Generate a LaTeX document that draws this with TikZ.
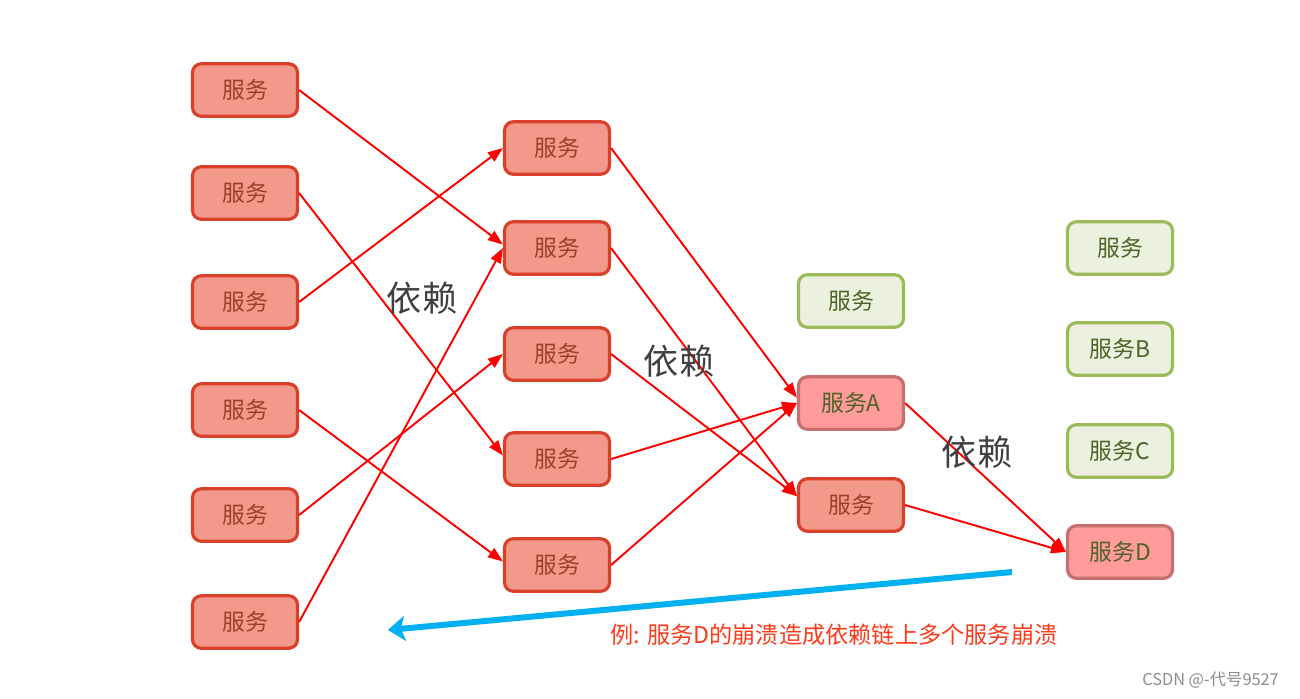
\documentclass[tikz,border=0pt]{standalone}
\usepackage{fontspec}
\setmainfont{Noto Sans CJK SC}
\usetikzlibrary{arrows.meta}
\definecolor{downfill}{HTML}{F2998B}
\definecolor{downedge}{HTML}{D8402A}
\definecolor{downtext}{HTML}{9E3E2A}
\definecolor{hitfill}{HTML}{FF9B9B}
\definecolor{hitedge}{HTML}{C76E6E}
\definecolor{okfill}{HTML}{EBF1DE}
\definecolor{okedge}{HTML}{9BBB59}
\definecolor{oktext}{HTML}{4F6228}
\definecolor{crashblue}{HTML}{00B0F0}
\definecolor{notered}{HTML}{FF3A1A}
\begin{document}
\begin{tikzpicture}[x=0.02cm,y=-0.02cm,
  svc/.style={line width=1.8pt,rounded corners=5pt,minimum width=2.1cm,minimum height=1.05cm,inner sep=0pt,font=\fontsize{13}{15}\selectfont},
  down/.style={svc,draw=downedge,fill=downfill,text=downtext},
  hit/.style={svc,draw=hitedge,fill=hitfill,text=oktext},
  ok/.style={svc,draw=okedge,fill=okfill,text=oktext},
  dep/.style={red,line width=1.1pt,-{Triangle[length=0.3cm,width=0.22cm]}},
  deplabel/.style={text=black!75,font=\fontsize{20}{24}\selectfont}]
\useasboundingbox (0,0) rectangle (1300,698);

\node [down] (a1) at (245,90) {服务};
\node [down] (a2) at (245,193) {服务};
\node [down] (a3) at (245,302) {服务};
\node [down] (a4) at (245,410) {服务};
\node [down] (a5) at (245,515) {服务};
\node [down] (a6) at (245,622) {服务};

\node [down] (b1) at (557,148) {服务};
\node [down] (b2) at (557,248) {服务};
\node [down] (b3) at (557,354) {服务};
\node [down] (b4) at (557,459) {服务};
\node [down] (b5) at (557,565) {服务};

\node [ok] (c0) at (851,301) {服务};
\node [hit] (svcA) at (851,403) {服务A};
\node [down] (c2) at (851,505) {服务};

\node [ok] (d0) at (1120,248) {服务};
\node [ok] (svcB) at (1120,349) {服务B};
\node [ok] (svcC) at (1120,451) {服务C};
\node [hit] (svcD) at (1120,552) {服务D};

\draw [dep] (a1.east) -- ([yshift=2pt]b2.west);
\draw [dep] (a2.east) -- ([yshift=2pt]b4.west);
\draw [dep] (a3.east) -- (b1.west);
\draw [dep] (a4.east) -- ([yshift=2pt]b5.west);
\draw [dep] (a5.east) -- (b3.west);
\draw [dep] (a6.east) -- (b2.west);

\draw [dep] (b1.east) -- ([yshift=3pt]svcA.west);
\draw [dep] (b4.east) -- (svcA.west);
\draw [dep] (b5.east) -- (svcA.west);
\draw [dep] (b2.east) -- ([yshift=5pt]c2.west);
\draw [dep] (b3.east) -- ([yshift=5pt]c2.west);

\draw [dep] (svcA.east) -- (svcD.west);
\draw [dep] (c2.east) -- (svcD.west);

\node [deplabel] (dep1) at (422,298) {依赖};
\node [deplabel] (dep2) at (679,361) {依赖};
\node [deplabel] (dep3) at (977,452) {依赖};

\coordinate (crashstart) at (1012,572);
\coordinate (crashend) at (388,630);
\draw [crashblue,line width=3.4pt,-{Stealth[length=0.34cm,width=0.5cm,inset=0.08cm]}] (crashstart) -- (crashend);

\node [text=notered,font=\fontsize{13.2}{16}\selectfont] (crashnote) at (834,635) {例: 服务D的崩溃造成依赖链上多个服务崩溃};
\node [text=black!45,font=\fontsize{9.3}{11}\selectfont,anchor=east] (mark) at (1285,680) {CSDN @-代号9527};
\end{tikzpicture}
\end{document}
